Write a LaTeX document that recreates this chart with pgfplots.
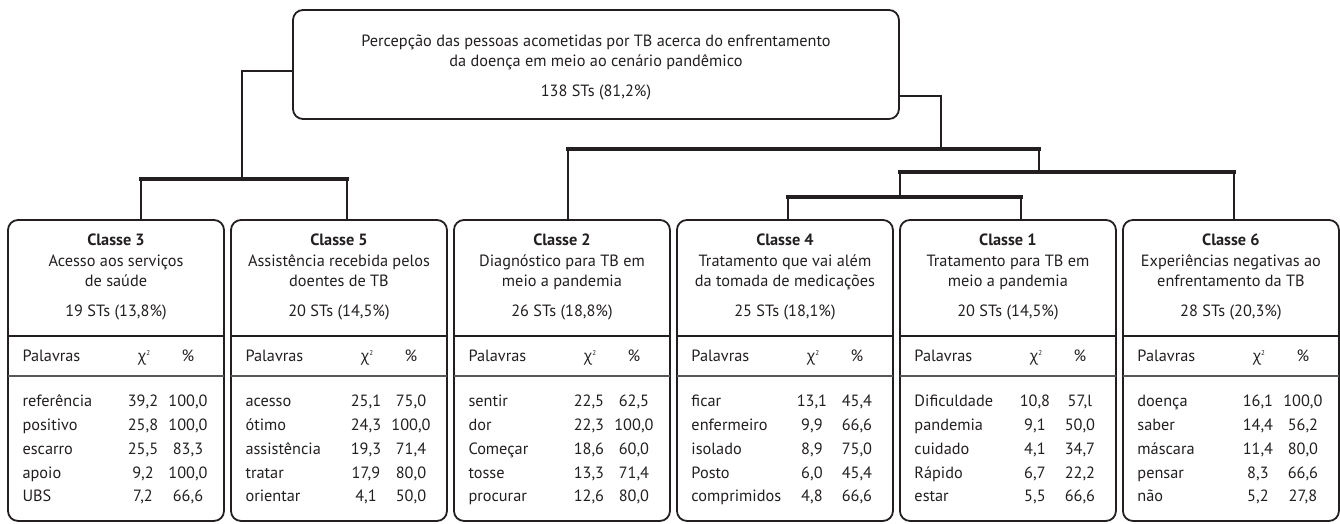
\documentclass[border=0pt]{standalone}
\usepackage{pgfplots}
\pgfplotsset{compat=1.18}
\usepackage{fontspec}
\setmainfont{PT Sans}
\newfontfamily\grk{Open Sans}
\definecolor{ink}{HTML}{231F20}
\newcommand\fs{\fontsize{16.3}{19}\selectfont}
\newcommand\chihead{{\grk\fontsize{15.5}{18}\selectfont χ}\raisebox{6pt}{\fontsize{7}{7}\selectfont 2}}
% #1 left edge, #2 class no., #3 line 2, #4 line 3, #5 STs
\newcommand\cls[5]{%
  \addplot[ink, line width=1.8pt, rounded corners=10pt] coordinates {(#1,220) ({#1+216},220) ({#1+216},521) (#1,521)} -- cycle;
  \addplot[ink, line width=2.2pt] coordinates {(#1,336) ({#1+216},336)};
  \addplot[ink!75, line width=1.2pt] coordinates {(#1,376) ({#1+216},376)};
  \node[anchor=base, font=\fs\bfseries, text=ink] at (axis cs:{#1+108},246) {Classe #2};
  \node[anchor=base, font=\fs, text=ink] at (axis cs:{#1+108},267) {#3};
  \node[anchor=base, font=\fs, text=ink] at (axis cs:{#1+108},287) {#4};
  \node[anchor=base, font=\fs, text=ink] at (axis cs:{#1+108},317) {#5};
  \node[anchor=base west, font=\fs, text=ink] at (axis cs:{#1+11},362) {Palavras};
  \node[anchor=base, font=\fs, text=ink] at (axis cs:{#1+136},362) {\chihead};
  \node[anchor=base, font=\fs, text=ink] at (axis cs:{#1+180},362) {\%};
}
% #1 left, #2 baseline y, #3 word, #4 chi2, #5 pct
\newcommand\row[5]{%
  \node[anchor=base west, font=\fs, text=ink] at (axis cs:{#1+11},#2) {#3};
  \node[anchor=base, font=\fs, text=ink] at (axis cs:{#1+135},#2) {#4};
  \node[anchor=base, font=\fs, text=ink] at (axis cs:{#1+180},#2) {#5};
}
\newcommand\rows[6]{%
  \row{#1}{407}#2
  \row{#1}{430.75}#3
  \row{#1}{454.5}#4
  \row{#1}{478.25}#5
  \row{#1}{502}#6
}
\begin{document}
\begin{tikzpicture}
\begin{axis}[scale only axis, width=1340pt, height=524pt,
  xmin=0, xmax=1340, ymin=0, ymax=524, y dir=reverse,
  hide axis, clip=false]
\addplot[draw=none] coordinates {(0,0) (1340,524)};
% top box
\addplot[ink, line width=1.8pt, rounded corners=10pt] coordinates {(293,10) (899,10) (899,119) (293,119)} -- cycle;
\node[anchor=base, font=\fs, text=ink] at (axis cs:596,47) {Percepção das pessoas acometidas por TB acerca do enfrentamento};
\node[anchor=base, font=\fs, text=ink] at (axis cs:596,67) {da doença em meio ao cenário pandêmico};
\node[anchor=base, font=\fs, text=ink] at (axis cs:596,97) {138 STs (81,2\%)};
% dendrogram
\addplot[ink, line width=2.6pt] coordinates {(293,71) (242,71) (242,179)};
\addplot[ink, line width=4pt] coordinates {(139,179) (349,179)};
\addplot[ink, line width=2.4pt] coordinates {(141,179) (141,220)};
\addplot[ink, line width=2.4pt] coordinates {(347,179) (347,220)};
\addplot[ink, line width=2.6pt] coordinates {(899,96) (941,96) (941,149)};
\addplot[ink, line width=4pt] coordinates {(566,149) (1041,149)};
\addplot[ink, line width=2.4pt] coordinates {(568,149) (568,220)};
\addplot[ink, line width=2.4pt] coordinates {(1039,149) (1039,172)};
\addplot[ink, line width=4pt] coordinates {(898,172) (1236,172)};
\addplot[ink, line width=2.4pt] coordinates {(900,172) (900,197)};
\addplot[ink, line width=2.4pt] coordinates {(1234,172) (1234,220)};
\addplot[ink, line width=4pt] coordinates {(786,197) (1023,197)};
\addplot[ink, line width=2.4pt] coordinates {(788,197) (788,220)};
\addplot[ink, line width=2.4pt] coordinates {(1021,197) (1021,220)};
% classes
\cls{8}{3}{Acesso aos serviços}{de saúde}{19 STs (13,8\%)}
\rows{8}{{referência}{39,2}{100,0}}{{positivo}{25,8}{100,0}}{{escarro}{25,5}{83,3}}{{apoio}{9,2}{100,0}}{{UBS}{7,2}{66,6}}
\cls{231}{5}{Assistência recebida pelos}{doentes de TB}{20 STs (14,5\%)}
\rows{231}{{acesso}{25,1}{75,0}}{{ótimo}{24,3}{100,0}}{{assistência}{19,3}{71,4}}{{tratar}{17,9}{80,0}}{{orientar}{4,1}{50,0}}
\cls{454}{2}{Diagnóstico para TB em}{meio a pandemia}{26 STs (18,8\%)}
\rows{454}{{sentir}{22,5}{62,5}}{{dor}{22,3}{100,0}}{{Começar}{18,6}{60,0}}{{tosse}{13,3}{71,4}}{{procurar}{12,6}{80,0}}
\cls{677}{4}{Tratamento que vai além}{da tomada de medicações}{25 STs (18,1\%)}
\rows{677}{{ficar}{13,1}{45,4}}{{enfermeiro}{9,9}{66,6}}{{isolado}{8,9}{75,0}}{{Posto}{6,0}{45,4}}{{comprimidos}{4,8}{66,6}}
\cls{900}{1}{Tratamento para TB em}{meio a pandemia}{20 STs (14,5\%)}
\rows{900}{{Dificuldade}{10,8}{57,l}}{{pandemia}{9,1}{50,0}}{{cuidado}{4,1}{34,7}}{{Rápido}{6,7}{22,2}}{{estar}{5,5}{66,6}}
\cls{1123}{6}{Experiências negativas ao}{enfrentamento da TB}{28 STs (20,3\%)}
\rows{1123}{{doença}{16,1}{100,0}}{{saber}{14,4}{56,2}}{{máscara}{11,4}{80,0}}{{pensar}{8,3}{66,6}}{{não}{5,2}{27,8}}
\end{axis}
\end{tikzpicture}
\end{document}
